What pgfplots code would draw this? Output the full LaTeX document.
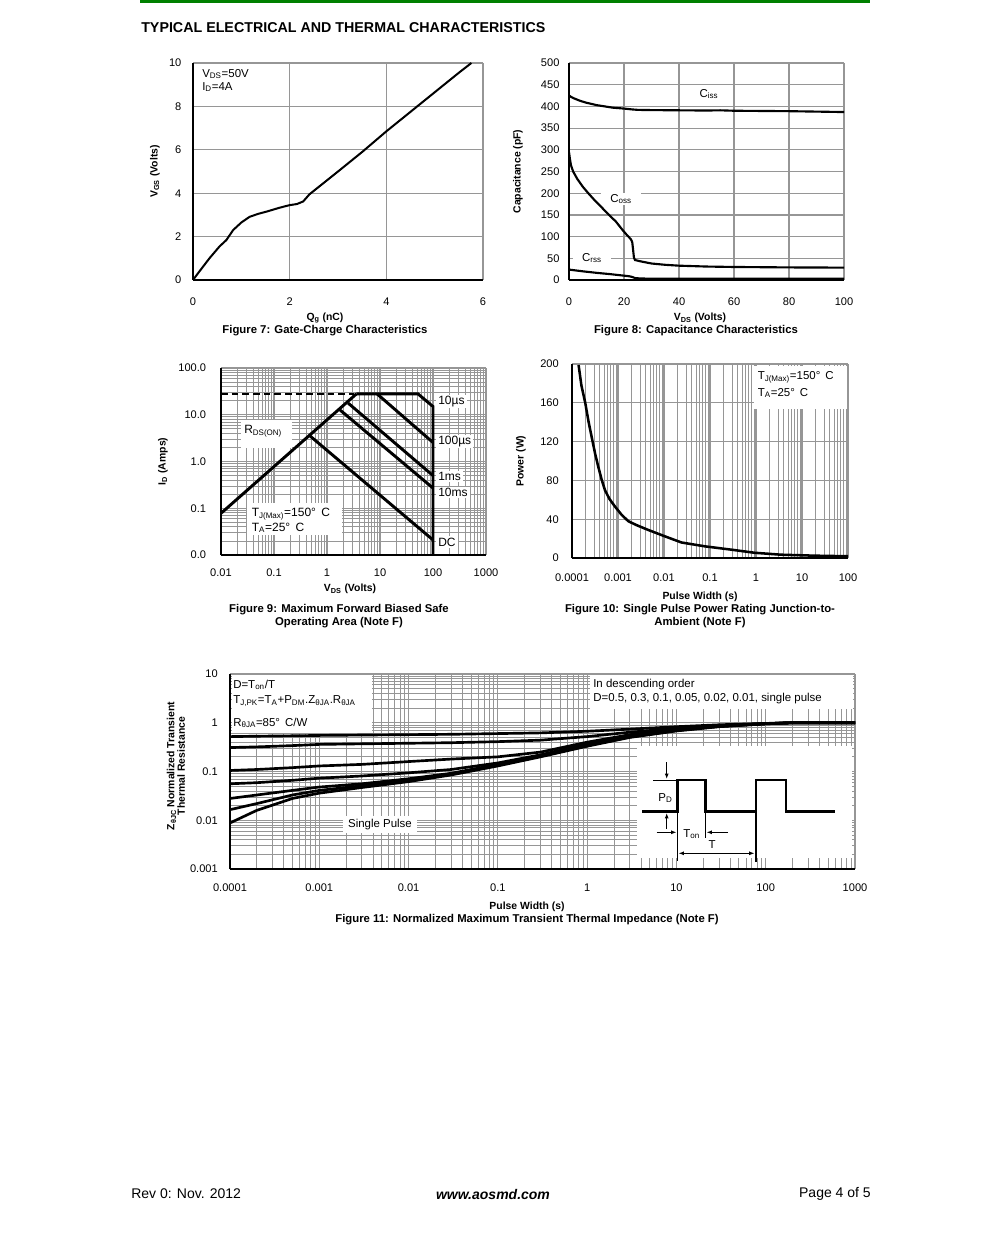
\documentclass[border=0pt]{standalone}
\usepackage{pgfplots}
\pgfplotsset{compat=1.18}
\usepackage{fontspec}
\setmainfont{Liberation Sans}
\usetikzlibrary{arrows.meta}
\definecolor{dsgreen}{RGB}{0,128,0}
\definecolor{gridgray}{RGB}{150,150,150}
\newcommand\tk{\fontsize{8.3}{10}\selectfont}
\newcommand\lb{\fontsize{7.8}{9.4}\selectfont\bfseries}
\newcommand\cp{\fontsize{8.5}{10.2}\selectfont\bfseries}
\newcommand\an{\fontsize{8.6}{10.3}\selectfont}
\newcommand\anb{\fontsize{9}{11}\selectfont}
\newcommand\ttl{\fontsize{10.7}{12.8}\selectfont\bfseries}
\newcommand\ft{\fontsize{10.5}{12.6}\selectfont}
\pgfplotsset{
  ds/.style={
    scale only axis, anchor=south west,
    axis x line*=bottom, axis y line*=left,
    axis line style={line width=1.6pt, black, -},
    major tick length=0pt, minor tick length=0pt,
    grid style={gridgray, line width=0.9pt},
    minor grid style={gridgray, line width=0.6pt},
    tick label style={font=\tk},
    /pgf/number format/assume math mode=true,
    xticklabel style={anchor=center},
    yticklabel style={anchor=east, inner sep=0pt},
  }
}
\begin{document}
\begin{tikzpicture}[x=0.75pt,y=0.75pt]
\path[use as bounding box] (0,0) rectangle (991,-1237);

% ---------------- Figure 7
\begin{axis}[ds, at={(144.75pt,-210pt)}, width=217.5pt, height=162.75pt,
  xmin=0, xmax=6, ymin=0, ymax=10, xtick={0,2,4,6}, ytick={0,2,4,6,8,10},
  grid=major, xticklabel style={yshift=-16.3pt}, yticklabel style={xshift=-8.5pt}]
\addplot[black, line width=1.5pt] coordinates {
(0,0) (0.1,0.3) (0.34,1.0) (0.55,1.55) (0.69,1.84) (0.83,2.3) (1.0,2.65) (1.17,2.91)
(1.35,3.05) (1.52,3.15) (1.79,3.33) (2.0,3.45) (2.15,3.5) (2.28,3.62) (2.41,3.95)
(3.0,5.0) (3.5,5.9) (4.0,6.85) (4.5,7.75) (5.0,8.65) (5.5,9.55) (5.76,10)};
\end{axis}

% ---------------- Figure 8
\begin{axis}[ds, at={(426.75pt,-210pt)}, width=206.25pt, height=162.75pt,
  xmin=0, xmax=100, ymin=0, ymax=500, xtick={0,20,...,100}, ytick={0,50,...,500},
  grid=major, xticklabel style={yshift=-16.3pt}, yticklabel style={xshift=-7pt}]
\addplot[black, line width=1.6pt] coordinates {
(0,425) (1,421) (2,418) (4,413) (6,409) (8,406) (10,403) (13,400) (16,397) (20,395)
(23,393) (25,392) (30,391.5) (40,391) (50,390.5) (55,391) (60,390) (70,389.5) (80,389) (90,388) (100,387)};
\addplot[black, line width=1.6pt] coordinates {
(0,295) (0.3,280) (0.7,265) (1.5,250) (3,233) (5,215) (7,200) (9,186) (11,173) (13,160)
(15,147) (17,135) (18,127) (19.5,115) (21,104) (22.5,94) (23,87) (23.3,70) (23.6,52) (24,46)
(26,43) (30,38) (35,35) (40,33) (50,31) (60,30) (70,29.5) (80,29) (100,28.5)};
\addplot[black, line width=1.6pt] coordinates {
(0,24) (5,20) (10,16.5) (15,13.5) (20,10) (22,8.5) (23,7) (24,4.5) (26,3.5) (30,3) (50,3) (100,3)};
\end{axis}

% ---------------- Figure 9
\begin{axis}[ds, at={(165.75pt,-416.25pt)}, width=198.75pt, height=140.25pt,
  xmode=log, ymode=log, xmin=0.01, xmax=1000, ymin=0.01, ymax=100,
  xtick={0.01,0.1,1,10,100,1000}, xticklabels={0.01,0.1,1,10,100,1000},
  ytick={0.01,0.1,1,10,100}, yticklabels={0.0,0.1,1.0,10.0,100.0},
  grid=both, xticklabel style={yshift=-13.5pt}, yticklabel style={xshift=-11pt}]
\addplot[black, line width=2.2pt] coordinates {(0.01,0.078) (3.6,28)};
\addplot[black, line width=1.4pt, dash pattern=on 5pt off 3pt] coordinates {(0.01,28) (3.3,28)};
\addplot[black, line width=2.2pt] coordinates {(3.6,28) (52,28) (100,15) (100,0.01)};
\addplot[black, line width=2.2pt] coordinates {(8.8,28) (100,2.55)};
\addplot[black, line width=2.2pt] coordinates {(2.5,17.8) (100,0.5)};
\addplot[black, line width=2.2pt] coordinates {(1.74,12.8) (100,0.27)};
\addplot[black, line width=2.2pt] coordinates {(0.474,3.55) (100,0.021)};
\end{axis}

% ---------------- Figure 10
\begin{axis}[ds, at={(429pt,-418.5pt)}, width=207pt, height=145.5pt,
  xmode=log, xmin=0.0001, xmax=100, ymin=0, ymax=200,
  xtick={0.0001,0.001,0.01,0.1,1,10,100}, xticklabels={0.0001,0.001,0.01,0.1,1,10,100},
  ytick={0,40,...,200},
  xmajorgrids, xminorgrids, ymajorgrids,
  xticklabel style={yshift=-15pt}, yticklabel style={xshift=-9.75pt}]
\addplot[black, line width=1.9pt] coordinates {
(1.39e-4,199) (1.6e-4,178) (1.94e-4,160) (2.3e-4,140) (2.67e-4,125) (3.2e-4,107) (3.73e-4,94)
(4.4e-4,81) (5.2e-4,70) (6.5e-4,61) (8.6e-4,53) (1.2e-3,44.5) (1.67e-3,38) (2.5e-3,34) (4.5e-3,29)
(1.05e-2,22.3) (2.4e-2,16) (7.8e-2,12) (0.29,8.6) (0.93,5.4) (3.5,3.4) (18.8,2.4) (100,1.8)};
\end{axis}

% ---------------- Figure 11
\begin{axis}[ds, at={(172.5pt,-651.75pt)}, width=468.75pt, height=146.25pt,
  xmode=log, ymode=log, xmin=0.0001, xmax=1000, ymin=0.001, ymax=10,
  xtick={0.0001,0.001,0.01,0.1,1,10,100,1000}, xticklabels={0.0001,0.001,0.01,0.1,1,10,100,1000},
  ytick={0.001,0.01,0.1,1,10}, yticklabels={0.001,0.01,0.1,1,10},
  grid=both, xticklabel style={yshift=-14.25pt}, yticklabel style={xshift=-9pt}]
\addplot[black, line width=2pt] coordinates {(1e-4,0.52) (2e-4,0.53) (5e-4,0.54) (1e-3,0.55) (3e-3,0.56) (1e-2,0.57) (3e-2,0.58) (0.1,0.6) (0.3,0.62) (1,0.67) (3,0.74) (10,0.83) (30,0.91) (100,0.97) (200,1.0) (1000,1.0)};
\addplot[black, line width=2pt] coordinates {(1e-4,0.31) (2e-4,0.32) (5e-4,0.34) (1e-3,0.36) (3e-3,0.37) (1e-2,0.38) (3e-2,0.39) (0.1,0.41) (0.3,0.44) (1,0.52) (3,0.64) (10,0.77) (30,0.88) (100,0.96) (200,1.0) (1000,1.0)};
\addplot[black, line width=2pt] coordinates {(1e-4,0.105) (2e-4,0.11) (5e-4,0.12) (1e-3,0.13) (3e-3,0.14) (1e-2,0.16) (3e-2,0.18) (0.1,0.2) (0.3,0.25) (1,0.4) (3,0.57) (10,0.73) (30,0.86) (100,0.96) (200,1.0) (1000,1.0)};
\addplot[black, line width=2pt] coordinates {(1e-4,0.056) (2e-4,0.059) (5e-4,0.066) (1e-3,0.073) (3e-3,0.081) (1e-2,0.094) (3e-2,0.11) (0.1,0.15) (0.3,0.22) (1,0.37) (3,0.54) (10,0.71) (30,0.85) (100,0.96) (200,1.0) (1000,1.0)};
\addplot[black, line width=2pt] coordinates {(1e-4,0.028) (2e-4,0.033) (5e-4,0.041) (1e-3,0.048) (3e-3,0.056) (1e-2,0.071) (3e-2,0.092) (0.1,0.14) (0.3,0.21) (1,0.35) (3,0.52) (10,0.7) (30,0.85) (100,0.96) (200,1.0) (1000,1.0)};
\addplot[black, line width=2pt] coordinates {(1e-4,0.0165) (2e-4,0.022) (5e-4,0.033) (1e-3,0.041) (3e-3,0.051) (1e-2,0.066) (3e-2,0.088) (0.1,0.135) (0.3,0.205) (1,0.34) (3,0.51) (10,0.69) (30,0.84) (100,0.95) (200,1.0) (1000,1.0)};
\addplot[black, line width=2pt] coordinates {(1e-4,0.0088) (2e-4,0.016) (5e-4,0.028) (1e-3,0.036) (3e-3,0.047) (1e-2,0.062) (3e-2,0.085) (0.1,0.13) (0.3,0.2) (1,0.33) (3,0.5) (10,0.68) (30,0.83) (100,0.95) (200,1.0) (1000,1.0)};
\end{axis}

\begin{scope}[yscale=-1]
\draw[dsgreen, line width=2.2pt] (140,1.5) -- (870,1.5);
\node[anchor=west, font=\ttl, inner sep=0pt] at (141,27.5) {TYPICAL ELECTRICAL AND THERMAL CHARACTERISTICS};
% fig 7 texts
\node[anchor=west, font=\an, inner sep=0pt] at (202,74) {V\textsubscript{DS}=50V};
\node[anchor=west, font=\an, inner sep=0pt] at (202,87) {I\textsubscript{D}=4A};
\node[font=\lb, rotate=90] at (155,171.5) {V\textsubscript{GS} (Volts)};
\node[font=\lb] at (325,318) {Q\textsubscript{g} (nC)};
\node[font=\cp] at (325,331) {Figure 7: Gate-Charge Characteristics};
% fig 8 texts
\node[font=\an, fill=white, inner xsep=7pt, inner ysep=1pt] at (709,94) {C\textsubscript{iss}};
\node[font=\an, fill=white, inner xsep=7pt, inner ysep=1pt] at (621,199) {C\textsubscript{oss}};
\node[font=\an, fill=white, inner xsep=7pt, inner ysep=1pt] at (592,258) {C\textsubscript{rss}};
\node[font=\lb, rotate=90] at (518,171.5) {Capacitance (pF)};
\node[font=\lb] at (700,318) {V\textsubscript{DS} (Volts)};
\node[font=\cp] at (696,331) {Figure 8: Capacitance Characteristics};
% fig 9 texts
\fill[white] (240.5,420) rectangle (291.5,448);
\node[anchor=west, font=\anb, inner sep=0pt] at (244,431) {R\textsubscript{DS(ON)}};
\fill[white] (247,503) rectangle (341.5,535);
\node[anchor=west, font=\anb, inner sep=0pt] at (251.5,514) {T\textsubscript{J(Max)}=150° \,C};
\node[anchor=west, font=\anb, inner sep=0pt] at (251.5,527.5) {T\textsubscript{A}=25° \,C};
\foreach \yy/\tt in {401.5/10µs, 441.5/100µs, 476.5/1ms, 492.5/10ms, 542/DC}
  \node[anchor=west, font=\anb, fill=white, inner xsep=1.5pt, inner ysep=1pt] at (436,\yy) {\tt};
\node[font=\lb, rotate=90] at (163,461.5) {I\textsubscript{D} (Amps)};
\node[font=\lb] at (350,589) {V\textsubscript{DS} (Volts)};
\node[font=\cp] at (339,610) {Figure 9: Maximum Forward Biased Safe};
\node[font=\cp] at (339,623) {Operating Area (Note F)};
% fig 10 texts
\fill[white] (754,366) rectangle (847,409);
\node[anchor=west, font=\an, inner sep=0pt] at (757.5,377) {T\textsubscript{J(Max)}=150° \,C};
\node[anchor=west, font=\an, inner sep=0pt] at (757.5,393) {T\textsubscript{A}=25° \,C};
\node[font=\lb, rotate=90] at (521,461) {Power (W)};
\node[font=\lb] at (700,597) {Pulse Width (s)};
\node[font=\cp] at (700,610) {Figure 10: Single Pulse Power Rating Junction-to-};
\node[font=\cp] at (700,623) {Ambient (Note F)};
% fig 11 texts
\fill[white] (231.5,675) rectangle (372,733);
\node[anchor=west, font=\an, inner sep=0pt] at (233,685) {D=T\textsubscript{on}/T};
\node[anchor=west, font=\an, inner sep=0pt] at (233,701) {T\textsubscript{J,PK}=T\textsubscript{A}+P\textsubscript{DM}.Z\textsubscript{θJA}.R\textsubscript{θJA}};
\node[anchor=west, font=\an, inner sep=0pt] at (233,723) {R\textsubscript{θJA}=85° \,C/W};
\fill[white] (590,675) rectangle (853,709);
\node[anchor=west, font=\an, inner sep=0pt] at (593,685) {In descending order};
\node[anchor=west, font=\an, inner sep=0pt] at (593,699) {D=0.5, 0.3, 0.1, 0.05, 0.02, 0.01, single pulse};
\node[font=\an, fill=white, inner xsep=4pt, inner ysep=2pt] at (380,824.5) {Single Pulse};
\fill[white] (637,746) rectangle (852,858);
\draw[line width=2.2pt] (642,811.7) -- (677.3,811.7) -- (677.3,780) -- (705.7,780) -- (705.7,811.7) -- (756,811.7) -- (756,780) -- (786,780) -- (786,811.7) -- (835,811.7);
\draw[line width=0.8pt] (677.3,811.7) -- (677.3,861);
\draw[line width=0.8pt] (705.7,811.7) -- (705.7,838);
\draw[line width=1.5pt] (756,811.7) -- (756,862);
\draw[line width=0.7pt] (653,780) -- (677,780);
\draw[line width=0.8pt, -{Latex[length=4pt,width=3pt]}] (666.7,762) -- (666.7,779);
\draw[line width=0.8pt, -{Latex[length=4pt,width=3pt]}] (666.7,829) -- (666.7,813);
\draw[line width=0.8pt, -{Latex[length=4pt,width=3pt]}] (656.7,832.3) -- (676.5,832.3);
\draw[line width=0.8pt, -{Latex[length=4pt,width=3pt]}] (728,832.3) -- (706.5,832.3);
\draw[line width=0.8pt, {Latex[length=4pt,width=3pt]}-{Latex[length=4pt,width=3pt]}] (678.5,853.3) -- (754.5,853.3);
\node[font=\an] at (665.5,798) {P\textsubscript{D}};
\node[font=\an] at (691.7,834) {T\textsubscript{on}};
\node[font=\an] at (712,845) {T};
\node[font=\lb, rotate=90, align=center] at (176,766) {Z\textsubscript{θJC} Normalized Transient\\[-1.5pt]Thermal Resistance};
\node[font=\lb] at (527,907) {Pulse Width (s)};
\node[font=\cp] at (527,920) {Figure 11: Normalized Maximum Transient Thermal Impedance (Note F)};
% footer
\node[anchor=west, font=\ft, inner sep=0pt] at (131,1194) {Rev 0: Nov. 2012};
\node[font=\ft\bfseries\itshape, inner sep=0pt] at (493,1194) {www.aosmd.com};
\node[anchor=east, font=\ft, inner sep=0pt] at (871,1194) {Page 4 of 5};
\end{scope}
\end{tikzpicture}
\end{document}
